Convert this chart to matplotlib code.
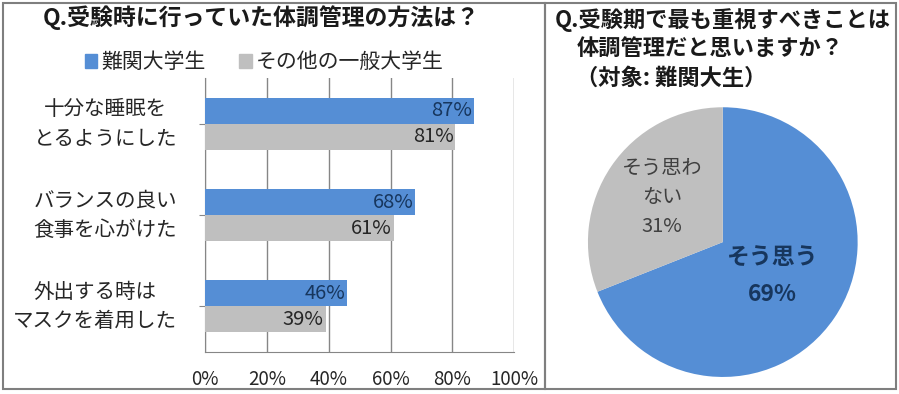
import matplotlib
matplotlib.use("Agg")
import matplotlib.pyplot as plt
from matplotlib.patches import Rectangle, Patch

plt.rcParams['font.family'] = ['Noto Sans CJK JP', 'DejaVu Sans']

# --- data ---
categories = ["十分な睡眠を\nとるようにした", "バランスの良い\n食事を心がけた", "外出する時は\nマスクを着用した"]
series_names = ["難関大学生", "その他の一般大学生"]
top_univ = [87, 68, 46]
other_univ = [81, 61, 39]
xticks = [0, 20, 40, 60, 80, 100]

pie_labels = ["そう思う", "そう思わ\nない"]
pie_values = [69, 31]

BLUE = "#558ED5"
GRAY = "#BFBFBF"
NAVY = "#17365D"

fig = plt.figure(figsize=(8.99, 3.94), dpi=100)

# panel frames
for x0, w in ((0.003, 0.603), (0.606, 0.391)):
    fig.add_artist(Rectangle((x0, 0.012), w, 0.98, transform=fig.transFigure,
                             fill=False, edgecolor="#7F7F7F", linewidth=1.5))

# --- bar chart ---
ax = fig.add_axes([0.228, 0.1066, 0.344, 0.695])
y = list(range(len(categories)))
h = 0.285
ax.barh([v - h / 2 for v in y], top_univ, height=h, color=BLUE, zorder=3)
ax.barh([v + h / 2 for v in y], other_univ, height=h, color=GRAY, zorder=3)
for i in y:
    ax.text(top_univ[i] - 0.6, i - h / 2, f"{top_univ[i]}%", ha="right", va="center",
            fontsize=14.5, color=NAVY, zorder=4)
    ax.text(other_univ[i] - 0.6, i + h / 2, f"{other_univ[i]}%", ha="right", va="center",
            fontsize=14.5, color="#262626", zorder=4)
ax.set_ylim(2.5, -0.5)
ax.set_xlim(0, 100)
ax.set_xticks(xticks)
ax.set_xticklabels([f"{t}%" for t in xticks], fontsize=13.5, color="#262626")
ax.tick_params(axis="x", length=0, pad=12)
ax.set_yticks(y)
ax.set_yticklabels([])
ax.tick_params(axis="y", length=4, color="#868686")
for i, c in enumerate(categories):
    ax.text(-0.09, i, c, transform=ax.get_yaxis_transform(), ha="right", va="center",
            multialignment="center", fontsize=14.8, color="#262626", linespacing=1.45)
ax.grid(axis="x", color="#868686", linewidth=1, zorder=0)
for s in ("top", "right"):
    ax.spines[s].set_visible(False)
for s in ("left", "bottom"):
    ax.spines[s].set_color("#868686")

fig.text(0.291, 0.955, "Q.受験時に行っていた体調管理の方法は？", ha="center", va="center",
         fontsize=16.5, fontweight="bold", color="#1a1a1a")
handles = [Patch(color=BLUE), Patch(color=GRAY)]
fig.legend(handles, series_names, loc="center", bbox_to_anchor=(0.294, 0.842), ncol=2,
           frameon=False, fontsize=15, handlelength=0.6, handleheight=0.6,
           handletextpad=0.2, columnspacing=1.6, labelcolor="#262626")

# --- pie chart ---
pax = fig.add_axes([0.654, 0.043, 0.300, 0.685])
pax.pie(pie_values, colors=[BLUE, GRAY], startangle=90, counterclock=False, radius=1)
pax.set_xlim(-1, 1)
pax.set_ylim(-1, 1)
pax.set_aspect("equal")
pax.text(0.37, -0.25, f"{pie_labels[0]}\n{pie_values[0]}%", ha="center", va="center",
         fontsize=16.5, fontweight="bold", color=NAVY, linespacing=1.75)
pax.text(-0.45, 0.33, f"{pie_labels[1]}\n{pie_values[1]}%", ha="center", va="center",
         fontsize=14.5, color="#404040", linespacing=1.5)

fig.text(0.617, 0.948, "Q.受験期で最も重視すべきことは", ha="left", va="center",
         fontsize=16, fontweight="bold", color="#1a1a1a")
fig.text(0.641, 0.876, "体調管理だと思いますか？", ha="left", va="center",
         fontsize=16, fontweight="bold", color="#1a1a1a")
fig.text(0.641, 0.802, "（対象: 難関大生）", ha="left", va="center",
         fontsize=16, fontweight="bold", color="#1a1a1a")

fig.savefig("out.png", dpi=100)
